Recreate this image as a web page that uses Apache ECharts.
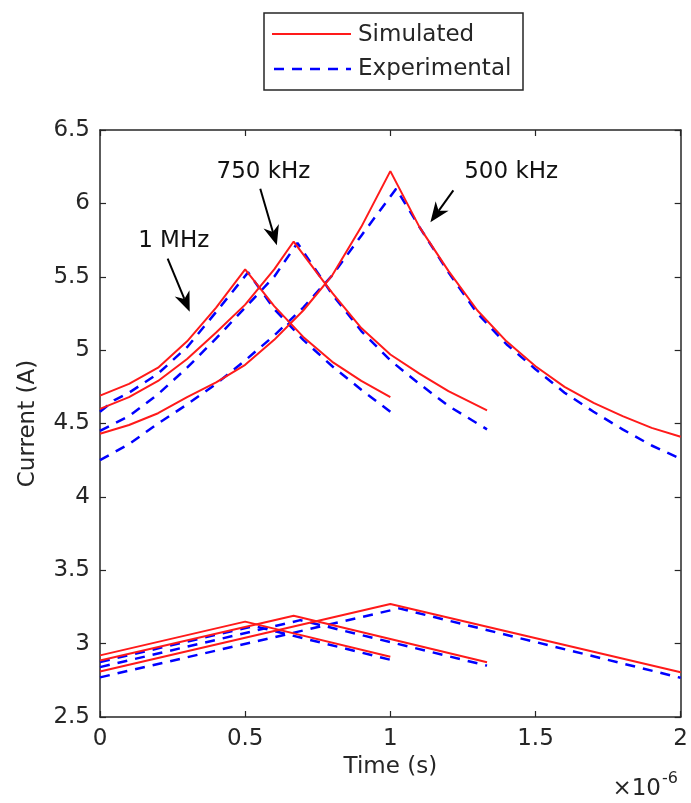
<!DOCTYPE html>
<html><head><meta charset="utf-8">
<script src="https://cdn.jsdelivr.net/npm/echarts@6.0.0/dist/echarts.min.js"></script>
<style>html,body{margin:0;padding:0;background:#fff}#c{width:691px;height:803px}</style>
</head><body><div id="c"></div>
<script>
// Time in units of 1e-6 s, current in A
// Upper (peak) current waveforms
const sim1MHzUpper = [[0,4.69],[0.1,4.77],[0.2,4.88],[0.3,5.06],[0.4,5.29],[0.5,5.55],[0.6,5.30],[0.7,5.09],[0.8,4.92],[0.9,4.79],[1.0,4.68]];
const exp1MHzUpper = [[0,4.58],[0.05,4.66],[0.1,4.71],[0.2,4.84],[0.3,5.02],[0.4,5.26],[0.51,5.53],[0.6,5.28],[0.7,5.07],[0.8,4.89],[0.9,4.73],[1.0,4.58]];
const sim750kUpper = [[0,4.60],[0.1,4.68],[0.2,4.79],[0.3,4.94],[0.4,5.12],[0.5,5.31],[0.6,5.55],[0.667,5.74],[0.75,5.52],[0.8,5.39],[0.9,5.15],[1.0,4.97],[1.1,4.84],[1.2,4.72],[1.333,4.59]];
const exp750kUpper = [[0,4.45],[0.1,4.55],[0.2,4.70],[0.3,4.88],[0.4,5.08],[0.5,5.29],[0.6,5.50],[0.68,5.73],[0.8,5.38],[0.9,5.13],[1.0,4.93],[1.1,4.77],[1.2,4.62],[1.333,4.46]];
const sim500kUpper = [[0,4.43],[0.1,4.49],[0.2,4.57],[0.3,4.68],[0.4,4.78],[0.5,4.90],[0.6,5.07],[0.7,5.27],[0.8,5.51],[0.9,5.84],[1.0,6.22],[1.1,5.84],[1.2,5.54],[1.3,5.27],[1.4,5.06],[1.5,4.89],[1.6,4.75],[1.7,4.64],[1.8,4.55],[1.9,4.47],[2.0,4.41]];
const exp500kUpper = [[0,4.25],[0.1,4.36],[0.2,4.50],[0.3,4.63],[0.4,4.77],[0.5,4.93],[0.6,5.10],[0.7,5.29],[0.8,5.51],[0.9,5.78],[1.02,6.10],[1.1,5.84],[1.2,5.53],[1.3,5.25],[1.4,5.04],[1.5,4.87],[1.6,4.71],[1.7,4.58],[1.8,4.46],[1.9,4.35],[2.0,4.26]];
// Lower (valley) current waveforms
const sim1MHzLower = [[0,2.92],[0.5,3.15],[1.0,2.91]];
const exp1MHzLower = [[0,2.875],[0.53,3.12],[1.0,2.89]];
const sim750kLower = [[0,2.885],[0.667,3.19],[1.333,2.873]];
const exp750kLower = [[0,2.84],[0.69,3.16],[1.333,2.85]];
const sim500kLower = [[0,2.81],[1.0,3.27],[2.0,2.805]];
const exp500kLower = [[0,2.77],[1.03,3.24],[2.0,2.767]];

const simSeries = [sim1MHzUpper, sim750kUpper, sim500kUpper, sim1MHzLower, sim750kLower, sim500kLower];
const expSeries = [exp1MHzUpper, exp750kUpper, exp500kUpper, exp1MHzLower, exp750kLower, exp500kLower];

const xMin = 0, xMax = 2, xStep = 0.5;
const yMin = 2.5, yMax = 6.5, yStep = 0.5;
const legendNames = ['Simulated', 'Experimental'];
const annotationLabels = ['1 MHz', '750 kHz', '500 kHz'];
// annotation placement (data coords): text centre, arrow start, arrow tip
const annotationText = [[0.254,5.741],[0.563,6.211],[1.416,6.211]];
const annotationFrom = [[0.233,5.624],[0.552,6.100],[1.217,6.088]];
const annotationTo   = [[0.309,5.261],[0.609,5.714],[1.138,5.872]];

const FONT = 'DejaVu Sans';
const INK = '#262626';
const RED = '#ff1a1a';
const BLUE = '#0000ff';

const chart = echarts.init(document.getElementById('c'), null, {renderer:'canvas'});

const series = [];
simSeries.forEach(d => series.push({
  name: legendNames[0], type:'line', data:d, showSymbol:false, symbol:'none', z:3,
  lineStyle:{color:RED, width:2}, animation:false
}));
expSeries.forEach(d => series.push({
  name: legendNames[1], type:'line', data:d, showSymbol:false, symbol:'none', z:2,
  lineStyle:{color:BLUE, width:2.5, type:[10,8]}, animation:false
}));

const axisCommon = {
  type:'value', splitLine:{show:false},
  axisLine:{show:true, onZero:false, lineStyle:{color:INK, width:1.5}},
  axisTick:{show:true, inside:true, length:6, lineStyle:{color:INK, width:1.2}}
};

chart.setOption({
  animation:false,
  backgroundColor:'#fff',
  grid:{left:100, top:130, width:586, height:587, containLabel:false},
  xAxis:[
    Object.assign({}, axisCommon, {min:xMin, max:xMax, interval:xStep, position:'bottom',
      axisLabel:{color:INK, fontFamily:FONT, fontSize:23, margin:11},
      name:'Time (s)', nameLocation:'middle', nameGap:27,
      nameTextStyle:{color:INK, fontFamily:FONT, fontSize:23}}),
    Object.assign({}, axisCommon, {min:xMin, max:xMax, interval:xStep, position:'top',
      axisLabel:{show:false}})
  ],
  yAxis:[
    Object.assign({}, axisCommon, {min:yMin, max:yMax, interval:yStep, position:'left',
      axisLabel:{color:INK, fontFamily:FONT, fontSize:23, margin:10},
      name:'Current (A)', nameLocation:'middle', nameGap:60,
      nameTextStyle:{color:INK, fontFamily:FONT, fontSize:23}}),
    Object.assign({}, axisCommon, {min:yMin, max:yMax, interval:yStep, position:'right',
      axisLabel:{show:false}})
  ],
  series: series
});

// graphics: legend, exponent, annotations
const g = [];
g.push({type:'rect', shape:{x:264, y:13, width:259, height:77}, style:{fill:'#fff', stroke:INK, lineWidth:1.5}, z:100});
g.push({type:'line', shape:{x1:272, y1:34, x2:351, y2:34}, style:{stroke:RED, lineWidth:2}, z:101});
g.push({type:'line', shape:{x1:274, y1:69, x2:351, y2:69}, style:{stroke:BLUE, lineWidth:2.5, lineDash:[10,8]}, z:101});
g.push({type:'text', x:358, y:35, style:{text:legendNames[0], fill:INK, font:'23px "'+FONT+'"', textAlign:'left', textVerticalAlign:'middle'}, z:101});
g.push({type:'text', x:358, y:69, style:{text:legendNames[1], fill:INK, font:'23px "'+FONT+'"', textAlign:'left', textVerticalAlign:'middle'}, z:101});
g.push({type:'text', x:661, y:801, style:{text:'\u00d710', fill:INK, font:'23px "'+FONT+'"', textAlign:'right', textVerticalAlign:'bottom'}, z:101});
g.push({type:'text', x:662, y:771, style:{text:'-6', fill:INK, font:'16px "'+FONT+'"', textAlign:'left', textVerticalAlign:'top'}, z:101});

function px(p){ return chart.convertToPixel({gridIndex:0}, p); }
annotationLabels.forEach((lab, i) => {
  const c = px(annotationText[i]);
  g.push({type:'text', x:c[0], y:c[1], style:{text:lab, fill:'#111', font:'23px "'+FONT+'"', textAlign:'center', textVerticalAlign:'middle'}, z:101});
  const a = px(annotationFrom[i]), b = px(annotationTo[i]);
  const dx = b[0]-a[0], dy = b[1]-a[1], L = Math.hypot(dx,dy), ux = dx/L, uy = dy/L, nx = -uy, ny = ux;
  const hl = 20, hw = 8, notch = 6;
  const bx = b[0]-ux*hl, by = b[1]-uy*hl;
  g.push({type:'line', shape:{x1:a[0], y1:a[1], x2:b[0]-ux*(hl-notch), y2:b[1]-uy*(hl-notch)}, style:{stroke:'#000', lineWidth:2}, z:101});
  g.push({type:'polygon', shape:{points:[[b[0],b[1]],[bx+nx*hw,by+ny*hw],[b[0]-ux*(hl-notch),b[1]-uy*(hl-notch)],[bx-nx*hw,by-ny*hw]]}, style:{fill:'#000'}, z:101});
});
chart.setOption({graphic:g});
</script></body></html>
